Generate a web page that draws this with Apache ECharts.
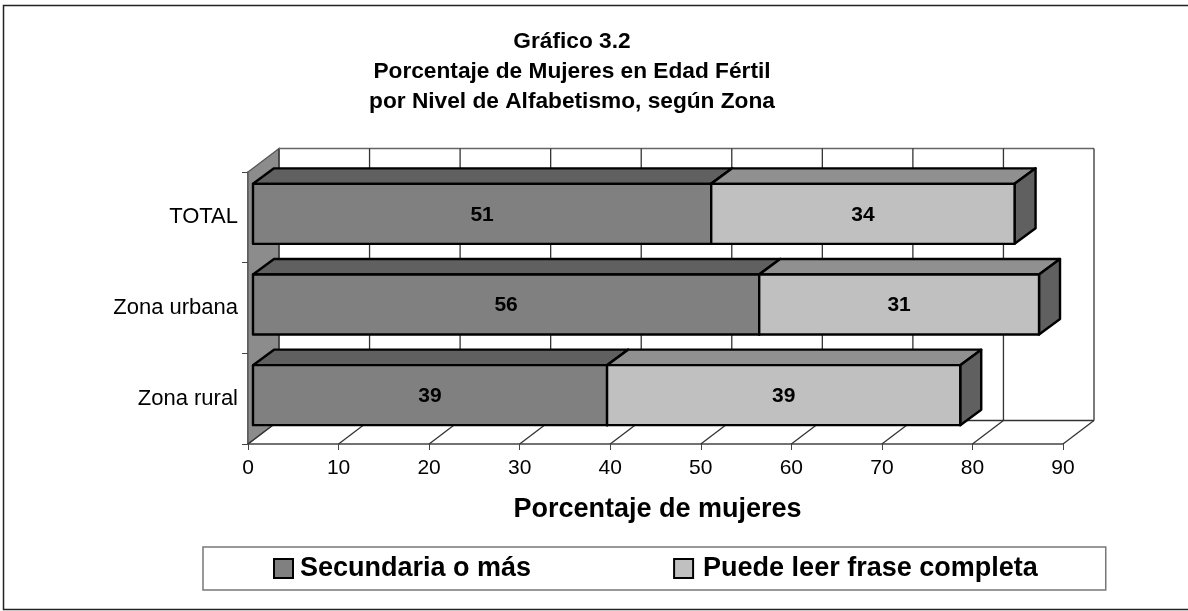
<!DOCTYPE html>
<html>
<head>
<meta charset="utf-8">
<style>
  html, body { margin: 0; padding: 0; background: #fff; }
  #chart { width: 1188px; height: 611px; }
</style>
<script src="https://cdn.jsdelivr.net/npm/echarts@6/dist/echarts.min.js"></script>
</head>
<body>
<div id="chart"></div>
<script>
const categories = ["TOTAL", "Zona urbana", "Zona rural"];
const secundaria = [50.6, 55.9, 39.1];
const puedeLeer = [33.5, 30.9, 39.0];
const secundariaLabels = ["51", "56", "39"];
const puedeLeerLabels = ["34", "31", "39"];
const xTicks = [0, 10, 20, 30, 40, 50, 60, 70, 80, 90];

const WALL_DX = 31;
const WALL_DY = 23.5;
const BAR_DX = 21;
const BAR_DY = 15.5;
const BAR_SHIFT_X = 5;
const BAR_SHIFT_Y = 3.5;
const BAR_HEIGHT = 60;
const FONT = "'Liberation Sans', Arial, sans-serif";

function poly(points, fill) {
  return {
    type: "polygon",
    shape: { points },
    style: { fill, stroke: "#000", lineWidth: 2.4, lineJoin: "round" },
  };
}

function barRenderer(starts, values, labels, frontColor, topColor) {
  return (params, api) => {
    const i = params.dataIndex;
    const a = api.coord([starts[i], i]);
    const b = api.coord([starts[i] + values[i], i]);
    const x0 = a[0] + BAR_SHIFT_X;
    const x1 = b[0] + BAR_SHIFT_X;
    const yTop = a[1] - BAR_SHIFT_Y - BAR_HEIGHT / 2;
    const yBot = yTop + BAR_HEIGHT;
    return {
      type: "group",
      children: [
        poly([[x0, yTop], [x0 + BAR_DX, yTop - BAR_DY], [x1 + BAR_DX, yTop - BAR_DY], [x1, yTop]], topColor),
        poly([[x1, yTop], [x1 + BAR_DX, yTop - BAR_DY], [x1 + BAR_DX, yBot - BAR_DY], [x1, yBot]], "#606060"),
        poly([[x0, yTop], [x1, yTop], [x1, yBot], [x0, yBot]], frontColor),
        {
          type: "text",
          style: {
            x: (x0 + x1) / 2,
            y: (yTop + yBot) / 2 + 1,
            text: labels[i],
            align: "center",
            verticalAlign: "middle",
            font: "bold 21px " + FONT,
            fill: "#000",
          },
        },
      ],
    };
  };
}

// back wall, side wall and floor lines, one pass per x tick
function wallRenderer(params, api) {
  const sys = params.coordSys;
  const tick = xTicks[params.dataIndex];
  const x = api.coord([tick, 0])[0];
  const bottom = sys.y + sys.height;
  const line = (x1, y1, x2, y2, color) => ({
    type: "line",
    shape: { x1, y1, x2, y2 },
    style: { stroke: color, lineWidth: 1.3 },
  });
  const children = [
    line(x, bottom, x + WALL_DX, bottom - WALL_DY, "#333"),
    line(x + WALL_DX, bottom - WALL_DY, x + WALL_DX, sys.y - WALL_DY, "#333"),
  ];
  if (params.dataIndex === 0) {
    children.unshift({
      type: "polygon",
      shape: {
        points: [
          [x, bottom],
          [x + WALL_DX, bottom - WALL_DY],
          [x + WALL_DX, sys.y - WALL_DY],
          [x, sys.y],
        ],
      },
      style: { fill: "#8c8c8c", stroke: "#555", lineWidth: 1.3 },
    });
    children.push(
      line(x + WALL_DX, sys.y - WALL_DY, sys.x + sys.width + WALL_DX, sys.y - WALL_DY, "#666"),
      line(x + WALL_DX, bottom - WALL_DY, sys.x + sys.width + WALL_DX, bottom - WALL_DY, "#333")
    );
  }
  return { type: "group", children };
}

const chart = echarts.init(document.getElementById("chart"), null, { renderer: "canvas" });
chart.setOption({
  animation: false,
  backgroundColor: "#fff",
  textStyle: { fontFamily: FONT },
  title: {
    text: "Gráfico 3.2\nPorcentaje de Mujeres en Edad Fértil\npor Nivel de Alfabetismo, según Zona",
    left: 567,
    top: 22,
    textAlign: "center",
    textStyle: { fontFamily: FONT, fontSize: 22.7, fontWeight: "bold", color: "#000", lineHeight: 30 },
  },
  graphic: [
    {
      type: "rect",
      silent: true,
      shape: { x: 3.5, y: 5.5, width: 1190, height: 604 },
      style: { fill: "none", stroke: "#222", lineWidth: 1.5 },
    },
  ],
  legend: {
    left: 203,
    top: 547,
    padding: [8, 68, 8, 70],
    itemGap: 142,
    itemWidth: 19,
    itemHeight: 19,
    borderColor: "#777",
    borderWidth: 1.5,
    icon: "rect",
    data: [
      { name: "Secundaria o más", textStyle: { padding: [0, 0, 0, 2] } },
      { name: "Puede leer frase completa", textStyle: { padding: [0, 0, 0, 5] } },
    ],
    textStyle: { fontFamily: FONT, fontSize: 27, fontWeight: "bold", color: "#000" },
  },
  grid: { left: 248, top: 172, width: 815, height: 272 },
  xAxis: {
    type: "value",
    min: 0,
    max: 90,
    interval: 10,
    name: "Porcentaje de mujeres",
    nameLocation: "middle",
    nameGap: 52,
    nameTextStyle: { fontFamily: FONT, fontSize: 27, fontWeight: "bold", color: "#000", padding: [0, 0, 0, 4] },
    axisLine: { show: true, lineStyle: { color: "#444", width: 1.5 } },
    axisTick: { show: true, length: 6, lineStyle: { color: "#444", width: 1 } },
    axisLabel: { fontFamily: FONT, fontSize: 21, color: "#000", margin: 14 },
    splitLine: { show: false },
  },
  yAxis: {
    type: "category",
    inverse: true,
    data: categories,
    axisLine: { show: true, lineStyle: { color: "#444", width: 1.5 } },
    axisTick: { show: true, length: 6, lineStyle: { color: "#444", width: 1 } },
    axisLabel: { fontFamily: FONT, fontSize: 22, color: "#000", margin: 10, padding: [6, 0, 0, 0] },
  },
  series: [
    {
      name: "wall",
      type: "custom",
      silent: true,
      z: 1,
      clip: false,
      data: xTicks,
      renderItem: wallRenderer,
    },
    {
      name: "Secundaria o más",
      type: "custom",
      z: 2,
      clip: false,
      itemStyle: { color: "#808080", borderColor: "#000", borderWidth: 2 },
      data: secundaria,
      renderItem: barRenderer(secundaria.map(() => 0), secundaria, secundariaLabels, "#808080", "#606060"),
    },
    {
      name: "Puede leer frase completa",
      type: "custom",
      z: 3,
      clip: false,
      itemStyle: { color: "#c0c0c0", borderColor: "#000", borderWidth: 2 },
      data: puedeLeer,
      renderItem: barRenderer(secundaria, puedeLeer, puedeLeerLabels, "#c0c0c0", "#909090"),
    },
  ],
});
</script>
</body>
</html>
